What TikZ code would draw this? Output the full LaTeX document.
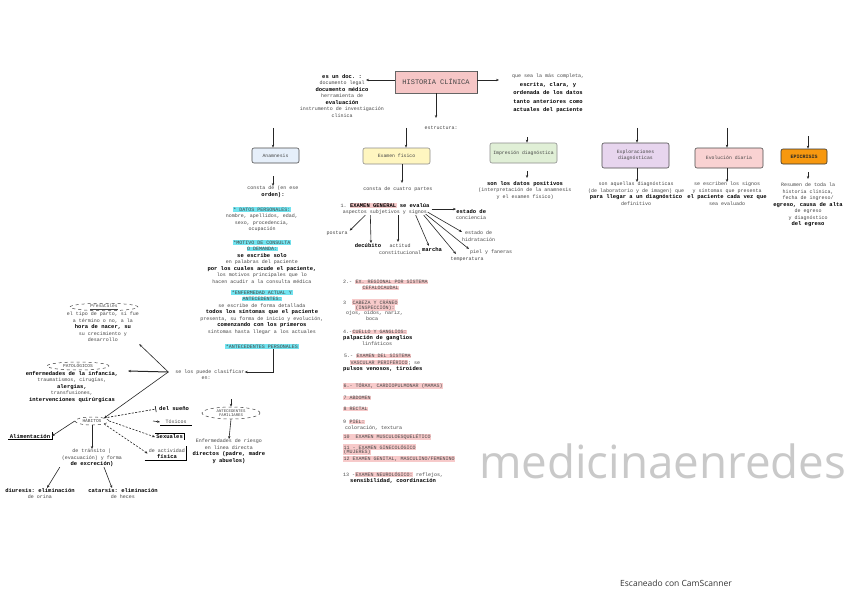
\documentclass[tikz,border=0pt]{standalone}
\usepackage{fontspec}
\usepackage{graphicx}
\setmonofont{Liberation Mono}
\newfontfamily\wmfont{Open Sans}
\usetikzlibrary{arrows.meta,shapes.geometric,calc}
\definecolor{txtg}{HTML}{454545}
\definecolor{hcyan}{HTML}{72E4F0}
\definecolor{hpink}{HTML}{F7CACA}
\definecolor{hcbg}{HTML}{F6C6C6}
\definecolor{cAn}{HTML}{E6EFFA}
\definecolor{cEf}{HTML}{FFF6C0}
\definecolor{cId}{HTML}{E0EFD6}
\definecolor{cEx}{HTML}{E7D5EE}
\definecolor{cEv}{HTML}{F9D2D2}
\definecolor{cEp}{HTML}{F7980F}
\definecolor{wmgray}{HTML}{C9C9C9}
\newcommand\tbd[1]{{\fontsize{5.5}{6.5}\selectfont\bfseries\color{black}#1}}
\newcommand\hlc[1]{{\setlength{\fboxsep}{0.5pt}\colorbox{hcyan}{#1}}}
\newcommand\hlp[1]{{\setlength{\fboxsep}{0.5pt}\colorbox{hpink}{#1}}}
\tikzset{
 tx/.style={inner sep=0pt, align=center, font=\ttfamily\fontsize{5}{6.5}\selectfont, text=txtg},
 txl/.style={tx, align=left, anchor=west},
 bx/.style={draw=black!70, line width=0.6pt, rounded corners=2pt, inner sep=1pt, align=center, font=\ttfamily\fontsize{4.8}{6}\selectfont, text=txtg},
 ell/.style={ellipse, draw=black!75, dashed, line width=0.5pt, inner sep=0pt, align=center, font=\ttfamily\fontsize{4.5}{4.8}\selectfont, text=txtg},
 arr/.style={-{Stealth[length=3pt,width=2.4pt]}, line width=0.6pt, draw=black!85},
 darr/.style={arr, dash pattern=on 2pt off 1.5pt},
}
\begin{document}
\begin{tikzpicture}[x=1pt,y=-1pt]
\useasboundingbox (0,0) rectangle (848,599);
\fill[white] (0,0) rectangle (848,599);

% ---------- top ----------
\node[draw=black!60, fill=hcbg, minimum width=82pt, minimum height=22pt, inner sep=0pt,
      font=\ttfamily\fontsize{7}{8}\selectfont, text=txtg] (hc) at (436,82) {HISTORIA CLÍNICA};
\draw[line width=1.2pt, black!70] (hc.north east) -- (hc.south east);

\node[tx, anchor=north] (lt) at (342,74) {\tbd{es un doc. :}\\documento legal\\\tbd{documento médico}\\herramienta de\\\tbd{evaluación}\\instrumento de investigación\\clínica};
\coordinate (ltA) at (366,80);
\draw[arr] (hc.west |- ltA) -- (ltA);

\node[tx, anchor=north] (rt) at (548,74) {que sea la más completa,\\[2pt]\tbd{escrita, clara, y}\\[2pt]\tbd{ordenada de los datos}\\[2pt]\tbd{tanto anteriores como}\\[2pt]\tbd{actuales del paciente}};
\coordinate (rtA) at (499,80);
\draw[arr] (hc.east |- rtA) -- (rtA);

\coordinate (hcD) at (436,118);
\draw[arr] (hc.south) -- (hcD);
\node[tx] (estr) at (441,128) {estructura:};

% ---------- boxes ----------
\node[bx, fill=cAn, minimum width=47pt, minimum height=15pt] (an) at (275.5,155.5) {Anamnesis};
\node[bx, fill=cEf, draw=black!45, minimum width=67pt, minimum height=16pt] (ef) at (396.5,156) {Examen físico};
\node[bx, fill=cId, draw=black!45, minimum width=67pt, minimum height=20pt] (id) at (523.5,153) {Impresión diagnóstica};
\node[bx, fill=cEx, minimum width=67pt, minimum height=25pt] (ex) at (635.5,155.5) {Exploraciones\\diagnósticas};
\node[bx, fill=cEv, minimum width=68pt, minimum height=20pt] (ev) at (729,158) {Evolución diaria};
\node[bx, fill=cEp, draw=black!80, minimum width=46pt, minimum height=15pt, text=black!85, font=\ttfamily\bfseries\fontsize{5}{6}\selectfont] (ep) at (804,156.5) {EPICRISIS};

\coordinate (anU) at (273,128);
\coordinate (efU) at (406,128);
\coordinate (idU) at (527,137);
\coordinate (exU) at (637,128);
\coordinate (evU) at (727,128);
\coordinate (epU) at (808,136);
\draw[arr] (anU) -- (anU |- an.north);
\draw[arr] (efU) -- (efU |- ef.north);
\draw[arr] (idU) -- (idU |- id.north);
\draw[arr] (exU) -- (exU |- ex.north);
\draw[arr] (evU) -- (evU |- ev.north);
\draw[arr] (epU) -- (epU |- ep.north);

% ---------- texts under boxes ----------
\node[tx, anchor=north] (anT) at (273,186) {consta de (en ese\\\tbd{orden):}};
\coordinate (anD) at (273,176);
\draw[arr] (anD) -- (anT.north -| anD);

\node[tx, anchor=north] (efT) at (398,187) {consta de cuatro partes};
\draw[arr] ($(ef.south)+(5.5,0)$) -- ($(efT.north)+(4,-4)$);

\node[tx, anchor=north] (idT) at (525,181) {\tbd{son los datos positivos}\\(interpretación de la anamnesis\\y el examen físico)};
\coordinate (idD) at (527,171);
\draw[arr] (idD) -- ($(idT.north)+(2,-3)$);

\node[tx, anchor=north] (exT) at (636,182) {son aquellas diagnósticas\\(de laboratorio y de imagen) que\\\tbd{para llegar a un diagnóstico}\\definitivo};
\draw[arr] ($(ex.south)+(1.5,0)$) -- ($(exT.north)+(1,0)$);

\node[tx, anchor=north] (evT) at (727,182) {se escriben los signos\\y síntomas que presenta\\\tbd{el paciente cada vez que}\\sea evaluado};
\draw[arr] ($(ev.south)+(-2,0)$) -- (evT.north);

\node[tx, anchor=north] (epT) at (808,183) {Resumen de toda la\\historia clínica,\\fecha de ingreso/\\\tbd{egreso, causa de alta}\\de egreso\\y diagnóstico\\\tbd{del egreso}};
\coordinate (epD) at (808,172);
\draw[arr] (epD) -- ($(epT.north)+(0,-4)$);

% ---------- anamnesis column ----------
\node[tx, anchor=north] (a1) at (262,207) {\hlc{* DATOS PERSONALES:}\\nombre, apellidos, edad,\\sexo, procedencia,\\ocupación};
\node[tx, anchor=north] (a2) at (262,240) {\hlc{*MOTIVO DE CONSULTA}\\\hlc{O DEMANDA:}\\\tbd{se escribe solo}\\en palabras del paciente\\\tbd{por los cuales acude el paciente,}\\los motivos principales que lo\\hacen acudir a la consulta médica};
\node[tx, anchor=north] (a3) at (262,290) {\hlc{*ENFERMEDAD ACTUAL Y}\\\hlc{ANTECEDENTES:}\\se escribe de forma detallada\\\tbd{todos los síntomas que el paciente}\\presenta, su forma de inicio y evolución,\\\tbd{comenzando con los primeros}\\síntomas hasta llegar a los actuales};
\node[tx, anchor=north] (antP) at (262,344) {\hlc{*ANTECEDENTES PERSONALES}};

\node[tx] (clas) at (210,372) {se los puede clasificar};
\node[tx] (clas2) at (206,378) {en:};
\draw[arr] ($(antP.south)+(11,0)$) |- (clas.east);

\coordinate (hub) at ($(clas.west)+(-7,0)$);

% prenatales
\node[ell, minimum width=68pt, minimum height=7pt] (pren) at (104,307) {\underline{Prenatales}};
\node[tx, anchor=north] (prenT) at (103,312) {el tipo de parto, si fue\\a término o no, a la\\\tbd{hora de nacer, su}\\su crecimiento y\\desarrollo};
\draw[arr] (hub) -- ($(prenT.south east)+(0,2)$);

% patologicos
\node[ell, minimum width=62pt, minimum height=8pt] (pat) at (78,366) {PATOLÓGICOS};
\node[tx, anchor=north] (patT) at (72,371) {\tbd{enfermedades de la infancia,}\\traumatismos, cirugías,\\\tbd{alergias,}\\transfusiones,\\\tbd{intervenciones quirúrgicas}};
\coordinate (patA) at (128,371);
\draw[arr, line width=1pt] (hub) -- (patA);

% habitos
\node[ell, minimum width=34pt, minimum height=8pt] (hab) at (92,421) {HÁBITOS};
\draw[arr] (hub) -- (hab.north east);

\node[tx, inner sep=1.5pt, font=\ttfamily\bfseries\fontsize{5.6}{6.5}\selectfont, text=black] (alim) at (30,436) {Alimentación};
\draw[line width=0.6pt] (alim.south west) -- (alim.south east) -- (alim.north east);
\draw[arr] (hab.west) -- (alim.east);

\node[tx, anchor=north] (trans) at (92,449) {de tránsito |\\(evacuación) y forma\\\tbd{de excreción)}};
\draw[arr] (hab.south) -- (trans.north);

\node[tx, anchor=north] (diur) at (40,488) {\tbd{diuresis: eliminación}\\de orina};
\node[tx, anchor=north] (cat) at (123,488) {\tbd{catarsis: eliminación}\\de heces};
\draw[arr] ($(trans.south west)+(-2,0)$) -- ($(diur.north)+(7,0)$);
\draw[arr] ($(trans.south)+(12,0)$) -- ($(cat.north)+(-11,0)$);

\node[tx, anchor=west] (sue) at (159,409) {\tbd{del sueño}};
\draw[dash pattern=on 2pt off 1.5pt, line width=0.6pt, -{Bar[width=6pt]}] (hab.north east) -- ($(sue.west)+(-3,0)$);

\node[tx, anchor=west, minimum width=32pt, align=left] (tox) at (160,422) {Tóxicos};
\draw[line width=0.5pt] ($(tox.south west)+(0,1)$) -- ($(tox.south east)+(0,1)$);
\coordinate (toxA) at (153,421);
\draw[arr] (toxA) -- (tox.west);

\node[tx, anchor=west, inner sep=1.2pt, text=black] (sex) at (155,437) {\tbd{Sexuales}};
\draw[line width=0.6pt] (sex.north west) -- (sex.north east) -- (sex.south east);
\draw[darr] (hab.east) -- (sex.west);

\node[tx, anchor=north, inner sep=1.2pt] (act) at (167,447) {de actividad\\\tbd{física}};
\draw[line width=0.6pt] ($(act.south west)+(-3,0)$) -- (act.south east) -- ($(act.north east)+(0,-1)$);
\draw[darr] (hab.south east) -- (act.west);

% antecedentes familiares
\node[ell, minimum width=58pt, minimum height=12pt, font=\ttfamily\fontsize{4}{4.6}\selectfont] (fam) at (231,413) {ANTECEDENTES\\FAMILIARES};
\coordinate (famA) at (231,399);
\draw[arr] (famA) -- (fam.north);
\node[tx, anchor=north] (famT) at (229,439) {Enfermedades de riesgo\\en línea directa\\\tbd{directos (padre, madre}\\\tbd{y abuelos)}};
\draw[arr] (fam.south) -- (famT.north);

% ---------- examen fisico ----------
\node[tx, anchor=north] (egen) at (385,203) {1.\ \hlp{\tbd{EXAMEN GENERAL}} \tbd{se evalúa}\\aspectos subjetivos y signos};
\node[tx, anchor=north west] (estC) at (456,209) {\tbd{estado de}\\conciencia};
\node[tx, anchor=north west] (estH) at (462,231) {estado de\\hidratación};
\node[tx, anchor=west] (piel) at (470,252) {piel y faneras};
\node[tx, anchor=north] (temp) at (467,257) {temperatura};
\node[tx, anchor=north] (marcha) at (432,247) {\tbd{marcha}};
\node[tx, anchor=north] (actit) at (400,244) {actitud\\constitucional};
\node[tx, anchor=north] (decub) at (368,243) {\tbd{decúbito}};
\node[tx] (post) at (337,233) {postura};

\draw[arr, line width=0.9pt] ($(egen.east)+(2,0)$) -- (egen.east -| estC.west);
\draw[arr] ($(egen.south east)+(-2,-3)$) -- ($(estH.north west)+(0,1)$);
\draw[arr] ($(egen.south east)+(-4,-1)$) -- ($(piel.west)+(-1,-3)$);
\draw[arr] ($(egen.south east)+(-6,0)$) -- ($(temp.north)+(-11,-3)$);
\draw[arr] ($(egen.south east)+(-14,0)$) -- ($(marcha.north)+(-3,-1)$);
\draw[arr, line width=0.4pt] ($(egen.south)+(13,0)$) -- ($(actit.north)+(-2,-2)$);
\draw[arr] ($(egen.south west)+(30,0)$) -- (decub.north -| 371,0);
\draw[arr] ($(egen.south west)+(25,0)$) -- ($(post.north east)+(2,0)$);

\node[txl] (e2a) at (343,282) {2.- \hlp{EX. REGIONAL POR SISTEMA}};
\node[txl] (e2b) at (362,288) {\hlp{CEFALOCAUDAL}};
\node[txl] (e3a) at (343,302) {3\ \ \hlp{CABEZA Y CRÁNEO}};
\node[txl] (e3b) at (355,307.5) {\hlp{(INSPECCIÓN):}};
\node[txl] (e3c) at (346,313) {ojos, oídos, nariz,};
\node[txl] (e3d) at (366,318.5) {boca};
\node[txl] (e4a) at (343,332) {4.-\hlp{CUELLO Y GANGLIOS:}};
\node[txl] (e4b) at (343,338) {\tbd{palpación de ganglios}};
\node[txl] (e4c) at (362,343.5) {linfáticos};
\node[txl] (e5a) at (344,356) {5.- \hlp{EXAMEN DEL SISTEMA}};
\node[txl] (e5b) at (350,362.5) {\hlp{VASCULAR PERIFÉRICO}; se};
\node[txl] (e5c) at (343,369) {\tbd{pulsos venosos, tiroides}};
\node[txl] (e6) at (343,386) {\hlp{6.- TÓRAX, CARDIOPULMONAR (MAMAS)}};
\node[txl] (e7) at (343,398) {\hlp{7 ABDOMEN}};
\node[txl] (e8) at (343,409) {\hlp{8 RECTAL}};
\node[txl] (e9a) at (343,422) {9 \hlp{PIEL:}};
\node[txl] (e9b) at (345,428.5) {coloración, textura};
\node[txl] (e10) at (343,437) {\hlp{10 \ EXAMEN MUSCULOESQUELÉTICO}};
\node[txl] (e11a) at (343,447) {\hlp{11 - EXAMEN GINECOLÓGICO}};
\node[txl] (e11b) at (343,452.5) {\hlp{(MUJERES)}};
\node[txl] (e12) at (343,459) {\hlp{12 EXAMEN GENITAL, MASCULINO/FEMENINO}};
\node[txl] (e13a) at (343,475) {13 -\hlp{EXAMEN NEUROLÓGICO:} reflejos,};
\node[txl] (e13b) at (350,481) {\tbd{sensibilidad, coordinación}};

% ---------- watermark ----------
\node[anchor=base west, inner sep=0pt, text=wmgray] (wm) at (479,478) {\resizebox{367pt}{!}{\wmfont medicinaenredes}};
\node[anchor=base west, inner sep=0pt, font=\wmfont\fontsize{8.5}{10}\selectfont, text=black!80] (cs) at (620,586) {Escaneado con CamScanner};
\end{tikzpicture}
\end{document}
